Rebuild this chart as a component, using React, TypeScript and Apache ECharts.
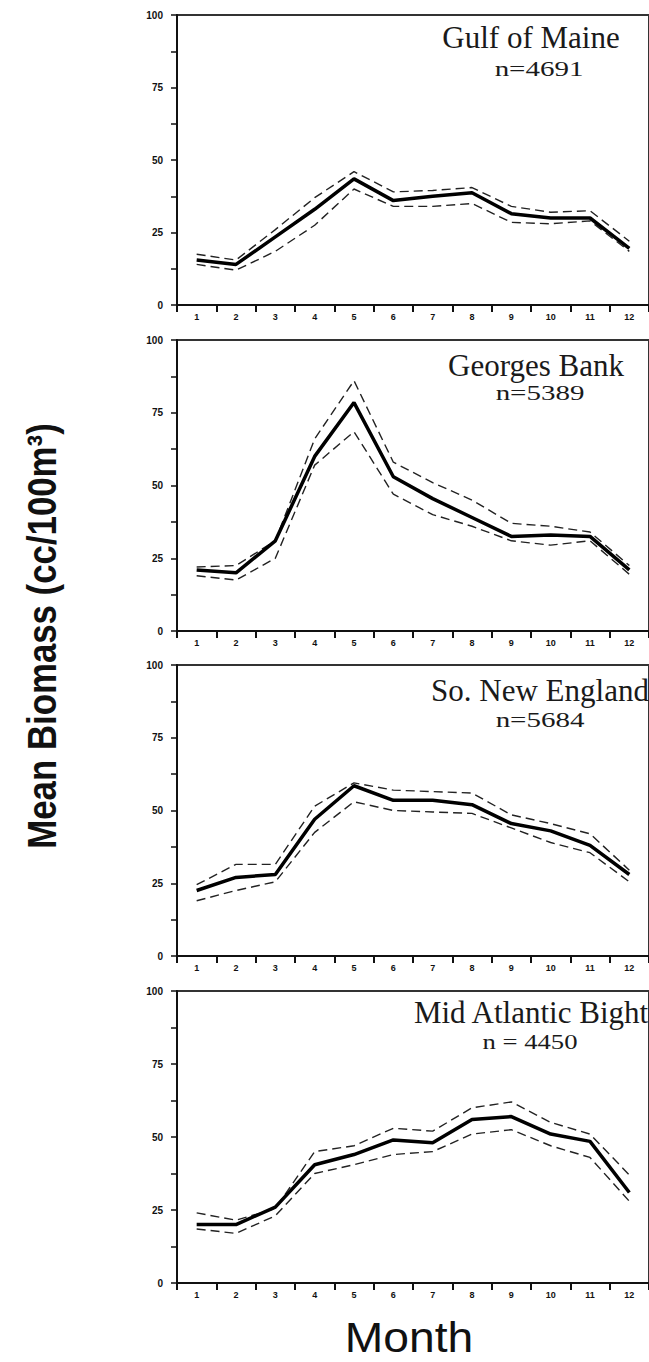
import React, { useEffect, useRef } from "react";
import * as echarts from "echarts";

const months = ["1", "2", "3", "4", "5", "6", "7", "8", "9", "10", "11", "12"];
const yTickValues = [0, 25, 50, 75, 100];

const regionNames = ["Gulf of Maine", "Georges Bank", "So. New England", "Mid Atlantic Bight"];
const sampleSizes = ["n=4691", "n=5389", "n=5684", "n = 4450"];

const gomMean = [15.5, 14, 23.5, 33, 43.5, 36, 37.5, 38.7, 31.5, 30, 30, 19.5];
const gomUpper = [17.5, 15.5, 26, 37, 46, 39, 39.5, 40.5, 34, 32, 32.5, 22];
const gomLower = [14, 12, 18.5, 27.5, 40, 34, 34, 35, 28.5, 28, 29, 18.5];

const gbMean = [21, 20, 31, 60, 78.5, 53, 45.5, 39, 32.5, 33, 32.5, 21];
const gbUpper = [22, 22.5, 31, 66, 86, 58, 51, 45, 37, 36, 34, 22.5];
const gbLower = [19, 17.5, 25, 57, 68.5, 47, 40, 36, 31, 29.5, 31, 19.5];

const sneMean = [22.5, 27, 28, 47, 58.5, 53.5, 53.5, 52, 45.5, 43, 38, 28];
const sneUpper = [24.5, 31.5, 31.5, 51.5, 59.5, 57, 56.5, 56, 48.5, 45.5, 42, 29.5];
const sneLower = [19, 22.5, 25.5, 42.5, 53, 50, 49.5, 49, 44, 39, 35.5, 25.5];

const mabMean = [20, 20, 26, 40.5, 44, 49, 48, 56, 57, 51, 48.5, 31];
const mabUpper = [24, 21.5, 25.5, 45, 47, 53, 52, 60, 62, 55, 51, 37];
const mabLower = [18.5, 17, 23, 37.5, 40.5, 44, 45, 51, 52.5, 47, 43, 28];

const meanSets = [gomMean, gbMean, sneMean, mabMean];
const upperSets = [gomUpper, gbUpper, sneUpper, mabUpper];
const lowerSets = [gomLower, gbLower, sneLower, mabLower];

const panelTops = [15, 340, 665, 991];
const panelHeights = [290, 291, 291, 292];
const titleY = [37.5, 365, 690.5, 1012.5];
const nY = [69, 393, 719.5, 1042.5];
const titleX = [531, 536, 540, 531];
const nX = [539, 540, 540, 530];

const SERIF = "'Liberation Serif', 'Times New Roman', serif";
const SANS = "'Liberation Sans', Arial, sans-serif";

export default function App() {
  const ref = useRef<HTMLDivElement>(null);

  useEffect(() => {
    if (!ref.current) return;
    const chart = echarts.init(ref.current, null, { renderer: "svg" });

    const grids = panelTops.map((t, i) => ({
      left: 177,
      top: t,
      width: 480,
      height: panelHeights[i],
      show: true,
      borderColor: "#333",
      borderWidth: 2,
      backgroundColor: "transparent",
    }));

    const xAxes = panelTops.map((_, i) => ({
      type: "category",
      gridIndex: i,
      data: months,
      boundaryGap: true,
      axisLine: { show: true, lineStyle: { color: "#111", width: 2 } },
      axisTick: { show: true, length: 7, lineStyle: { color: "#111", width: 2 } },
      axisLabel: {
        color: "#111",
        fontSize: 9,
        fontWeight: "bold",
        fontFamily: SANS,
        margin: 7,
        interval: 0,
      },
      splitLine: { show: false },
    }));

    const yAxes = panelTops.map((_, i) => ({
      type: "value",
      gridIndex: i,
      min: 0,
      max: 100,
      interval: 12.5,
      axisLine: { show: true, lineStyle: { color: "#111", width: 2 } },
      axisTick: { show: true, length: 6, lineStyle: { color: "#111", width: 1.5 } },
      axisLabel: {
        color: "#111",
        fontSize: 10,
        fontWeight: "bold",
        fontFamily: SANS,
        margin: 14,
        formatter: (v: number) => (yTickValues.includes(v) ? String(v) : ""),
      },
      splitLine: { show: false },
    }));

    const series: any[] = [];
    meanSets.forEach((mean, i) => {
      series.push({
        type: "line",
        xAxisIndex: i,
        yAxisIndex: i,
        data: upperSets[i],
        symbol: "none",
        lineStyle: { color: "#222", width: 1.4, type: [9, 5] },
        z: 2,
      });
      series.push({
        type: "line",
        xAxisIndex: i,
        yAxisIndex: i,
        data: lowerSets[i],
        symbol: "none",
        lineStyle: { color: "#222", width: 1.4, type: [9, 5] },
        z: 2,
      });
      series.push({
        type: "line",
        xAxisIndex: i,
        yAxisIndex: i,
        data: mean,
        symbol: "none",
        lineStyle: { color: "#000", width: 3.5 },
        z: 3,
      });
    });

    const graphics: any[] = [];
    regionNames.forEach((name, i) => {
      graphics.push({
        type: "text",
        x: titleX[i],
        y: titleY[i],
        style: {
          text: name,
          fontSize: 31,
          fontFamily: SERIF,
          fill: "#1a1a1a",
          align: "center",
          verticalAlign: "middle",
          textAlign: "center",
          textVerticalAlign: "middle",
        },
      });
      graphics.push({
        type: "text",
        x: nX[i],
        y: nY[i],
        scaleX: i === 3 ? 1.27 : 1.38,
        style: {
          text: sampleSizes[i],
          fontSize: 21,
          fontFamily: SERIF,
          fill: "#1a1a1a",
          align: "center",
          verticalAlign: "middle",
          textAlign: "center",
          textVerticalAlign: "middle",
        },
      });
    });
    graphics.push({
      type: "text",
      x: 42,
      y: 636,
      rotation: Math.PI / 2,
      scaleX: 0.87,
      style: {
        text: "Mean Biomass (cc/100m³)",
        fontSize: 40,
        fontWeight: "bold",
        fontFamily: SANS,
        fill: "#111",
        align: "center",
        verticalAlign: "middle",
        textAlign: "center",
        textVerticalAlign: "middle",
      },
    });
    graphics.push({
      type: "text",
      x: 409,
      y: 1337,
      scaleX: 1.1,
      style: {
        text: "Month",
        fontSize: 42,
        fontFamily: SANS,
        fill: "#111",
        align: "center",
        verticalAlign: "middle",
        textAlign: "center",
        textVerticalAlign: "middle",
      },
    });

    chart.setOption({
      animation: false,
      backgroundColor: "#fff",
      grid: grids,
      xAxis: xAxes,
      yAxis: yAxes,
      series,
      graphic: { elements: graphics },
    });

    return () => chart.dispose();
  }, []);

  return (
    <div
      ref={ref}
      style={{ position: "absolute", left: 0, top: 0, width: 649, height: 1362 }}
    />
  );
}
